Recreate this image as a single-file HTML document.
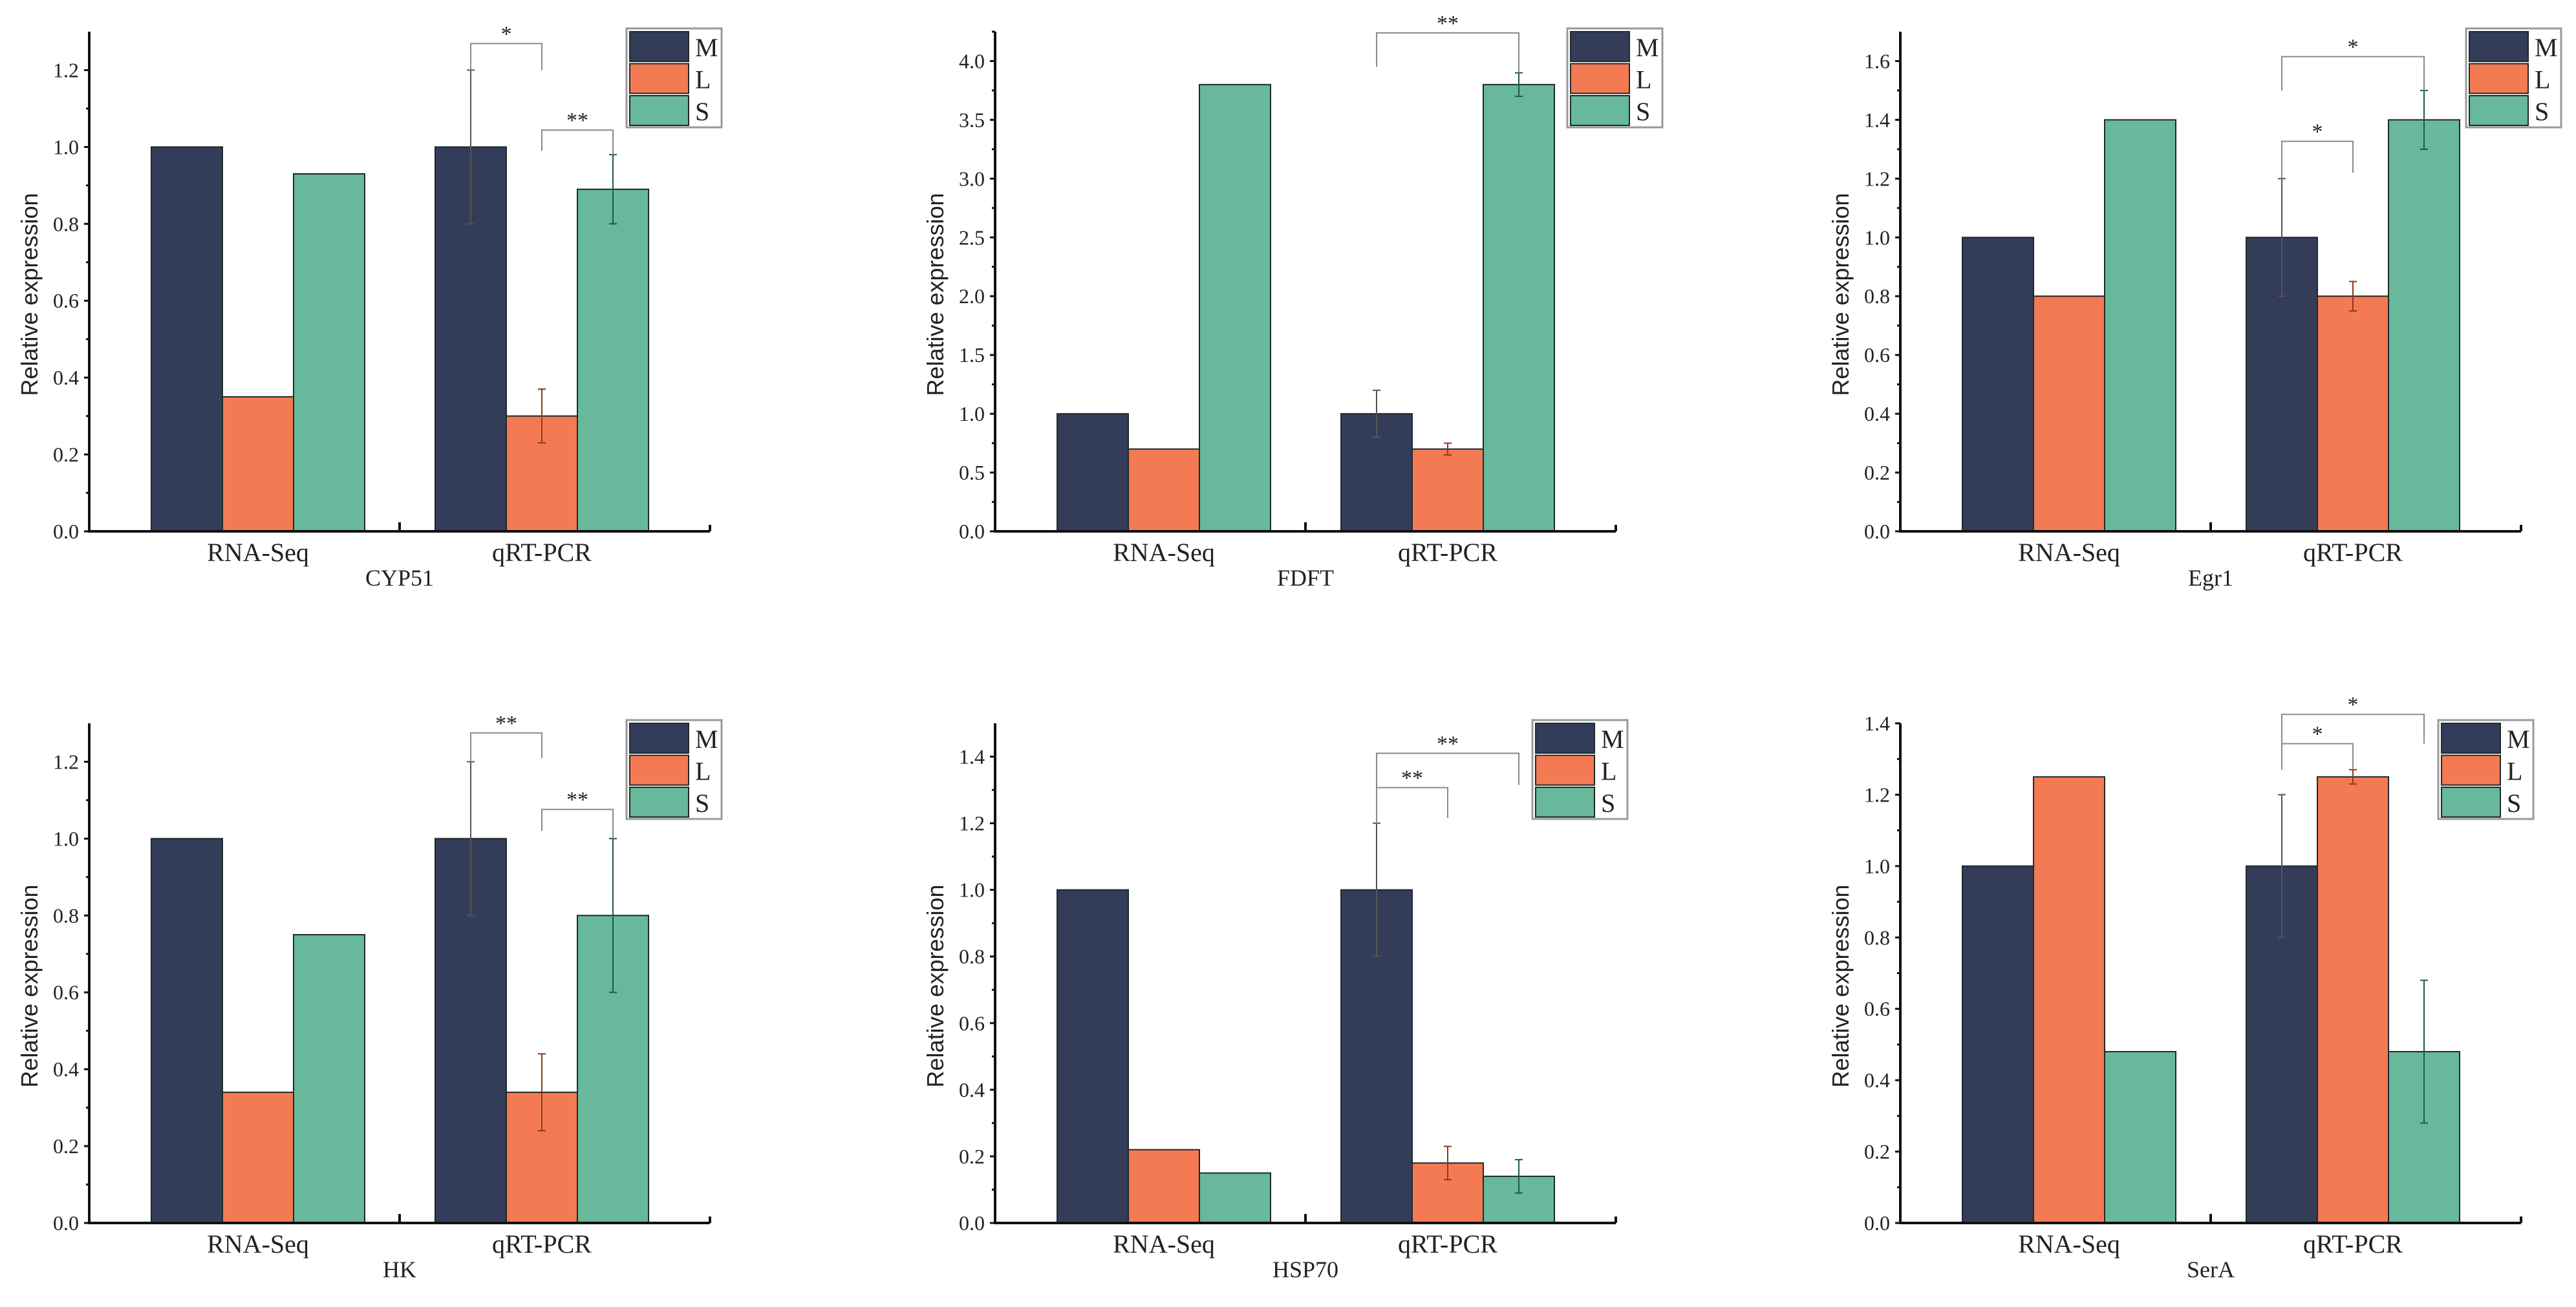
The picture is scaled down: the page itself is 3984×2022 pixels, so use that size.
<!DOCTYPE html>
<html><head><meta charset="utf-8">
<style>
html,body{margin:0;padding:0;background:#fff;}
svg{display:block;}
text{font-family:"Liberation Serif",serif;fill:#222;}
.yt{font-family:"Liberation Sans",sans-serif;}
</style></head>
<body>
<svg id="chart" width="3984" height="2022" viewBox="0 0 3984 2022" xmlns="http://www.w3.org/2000/svg"></svg>
<script>
// ---- data ----
const genes = ["CYP51","FDFT","Egr1","HK","HSP70","SerA"];
const categories = ["RNA-Seq","qRT-PCR"];
const seriesNames = ["M","L","S"];
const rnaSeqM = [1,1,1,1,1,1];
const rnaSeqL = [0.35,0.7,0.8,0.34,0.22,1.25];
const rnaSeqS = [0.93,3.8,1.4,0.75,0.15,0.48];
const qpcrM = [1,1,1,1,1,1];
const qpcrL = [0.30,0.7,0.8,0.34,0.18,1.25];
const qpcrS = [0.89,3.8,1.4,0.80,0.14,0.48];
const errM = [0.2,0.2,0.2,0.2,0.2,0.2];
const errL = [0.07,0.05,0.05,0.1,0.05,0.02];
const errS = [0.09,0.1,0.1,0.2,0.05,0.2];
const yMax = [1.3,4.25,1.7,1.3,1.5,1.4];
const yStep = [0.2,0.5,0.2,0.2,0.2,0.2];
const yTickLabels = [
 ["0.0","0.2","0.4","0.6","0.8","1.0","1.2"],
 ["0.0","0.5","1.0","1.5","2.0","2.5","3.0","3.5","4.0"],
 ["0.0","0.2","0.4","0.6","0.8","1.0","1.2","1.4","1.6"],
 ["0.0","0.2","0.4","0.6","0.8","1.0","1.2"],
 ["0.0","0.2","0.4","0.6","0.8","1.0","1.2","1.4"],
 ["0.0","0.2","0.4","0.6","0.8","1.0","1.2","1.4"]
];
// brackets: [barFrom, barTo, topValue, leftEnd, rightEnd, label] (bars in qRT-PCR group: 0=M,1=L,2=S)
const brackets = [
 [[0,1,1.269,1.2,1.2,"*"],[1,2,1.044,0.99,0.98,"**"]],
 [[0,2,4.24,3.95,3.9,"**"]],
 [[0,2,1.615,1.5,1.5,"*"],[0,1,1.327,1.2,1.22,"*"]],
 [[0,1,1.275,1.2,1.21,"**"],[1,2,1.076,1.02,1.0,"**"]],
 [[0,2,1.41,1.307,1.315,"**"],[0,1,1.307,1.2,1.216,"**"]],
 [[0,2,1.425,1.27,1.343,"*"],[0,1,1.343,1.27,1.27,"*"]]
];
// ---- layout ----
const colors = ["#333d5a","#f47a53","#68b89b"];
const axX = [138,1539,2939,138,1539,2939];
const axBase = [822,822,822,1892,1892,1892];
const axH = 773, axW = 960, barW = 110;
const groupStart = [96,535];
const legendDX = [831,885,875,831,831,832];
const NS = "http://www.w3.org/2000/svg";
const svg = document.getElementById("chart");
function mk(tag, attrs, parent){
  const e = document.createElementNS(NS, tag);
  for (const k in attrs) e.setAttribute(k, attrs[k]);
  (parent||svg).appendChild(e);
  return e;
}
for (let p=0;p<6;p++){
  const g = mk("g",{});
  
  
  const x0 = axX[p], base = axBase[p];
  const yS = v => base - v/yMax[p]*axH;
  const xBar = (c,s) => x0 + groupStart[c] + s*barW;
  const vals = [[rnaSeqM[p],rnaSeqL[p],rnaSeqS[p]],[qpcrM[p],qpcrL[p],qpcrS[p]]];
  const errs = [errM[p],errL[p],errS[p]];
  // bars
  for (let c=0;c<2;c++) for (let s=0;s<3;s++){
    const v = vals[c][s];
    const r = mk("rect",{x:xBar(c,s),y:yS(v),width:barW,height:base-yS(v),fill:colors[s],stroke:"#1f2a2a","stroke-width":2},g);
    
    
  }
  // error bars
  for (let s=0;s<3;s++){
    const cx = xBar(1,s)+barW/2, v = vals[1][s], e = errs[s];
    const eg = mk("g",{stroke:s===0?"#555":(s===1?"#8a3a20":"#1e5a48"),"stroke-width":2},g);
    
    
    mk("line",{x1:cx,x2:cx,y1:yS(v+e),y2:yS(v-e)},eg);
    mk("line",{x1:cx-6,x2:cx+6,y1:yS(v+e),y2:yS(v+e)},eg);
    mk("line",{x1:cx-6,x2:cx+6,y1:yS(v-e),y2:yS(v-e)},eg);
  }
  // brackets
  brackets[p].forEach(b=>{
    const xa = xBar(1,b[0])+barW/2, xb = xBar(1,b[1])+barW/2;
    const bg = mk("g",{},g);
    
    
    mk("polyline",{points:`${xa},${yS(b[3])} ${xa},${yS(b[2])} ${xb},${yS(b[2])} ${xb},${yS(b[4])}`,fill:"none",stroke:"#8a8a8a","stroke-width":2},bg);
    const t = mk("text",{x:(xa+xb)/2,y:yS(b[2])-4,"text-anchor":"middle","font-size":34},bg);
    t.textContent = b[5];
  });
  // axes
  const ax = mk("g",{stroke:"#111","stroke-width":4},g);
  
  
  mk("line",{x1:x0,x2:x0,y1:base-axH,y2:base+2},ax);
  mk("line",{x1:x0-2,x2:x0+axW,y1:base,y2:base},ax);
  mk("line",{x1:x0+axW/2,x2:x0+axW/2,y1:base,y2:base-14},ax);
  mk("line",{x1:x0+axW,x2:x0+axW,y1:base,y2:base-10},ax);
  // y ticks
  const labs = yTickLabels[p];
  for (let i=0;i<labs.length;i++){
    const v = i*yStep[p], y = yS(v);
    mk("line",{x1:x0-8,x2:x0,y1:y,y2:y,stroke:"#111","stroke-width":3},g);
    const t = mk("text",{x:x0-16,y:y+11,"text-anchor":"end","font-size":32,fill:"#333"},g);
    
    
    t.textContent = labs[i];
    const vm = v + yStep[p]/2;
    if (vm <= yMax[p]) mk("line",{x1:x0-5,x2:x0,y1:yS(vm),y2:yS(vm),stroke:"#111","stroke-width":3},g);
  }
  // y title
  const yt = mk("text",{class:"yt",x:0,y:0,"text-anchor":"middle","font-size":36,transform:`translate(${x0-80},${base-axH/2+20}) rotate(-90)`},g);
  
  
  yt.textContent = "Relative expression";
  // category labels
  for (let c=0;c<2;c++){
    const t = mk("text",{x:x0+groupStart[c]+1.5*barW,y:base+46,"text-anchor":"middle","font-size":40},g);
    
    
    t.textContent = categories[c];
  }
  // gene title
  const gt = mk("text",{x:x0+axW/2,y:base+84,"text-anchor":"middle","font-size":36},g);
  
  
  gt.textContent = genes[p];
  // legend
  const lx = x0 + legendDX[p], ly = base - axH - 5;
  const lg = mk("g",{},g);
  
  
  mk("rect",{x:lx,y:ly,width:147,height:153,fill:"#fff",stroke:"#999","stroke-width":3},lg);
  for (let s=0;s<3;s++){
    const e = mk("g",{},lg);
    
    
    mk("rect",{x:lx+5,y:ly+5+s*49.5,width:91,height:46,fill:colors[s],stroke:"#1f2a2a","stroke-width":2},e);
    const t = mk("text",{x:lx+106,y:ly+43+s*49.5,"font-size":40},e);
    t.textContent = seriesNames[s];
  }
}
</script>
</body></html>
